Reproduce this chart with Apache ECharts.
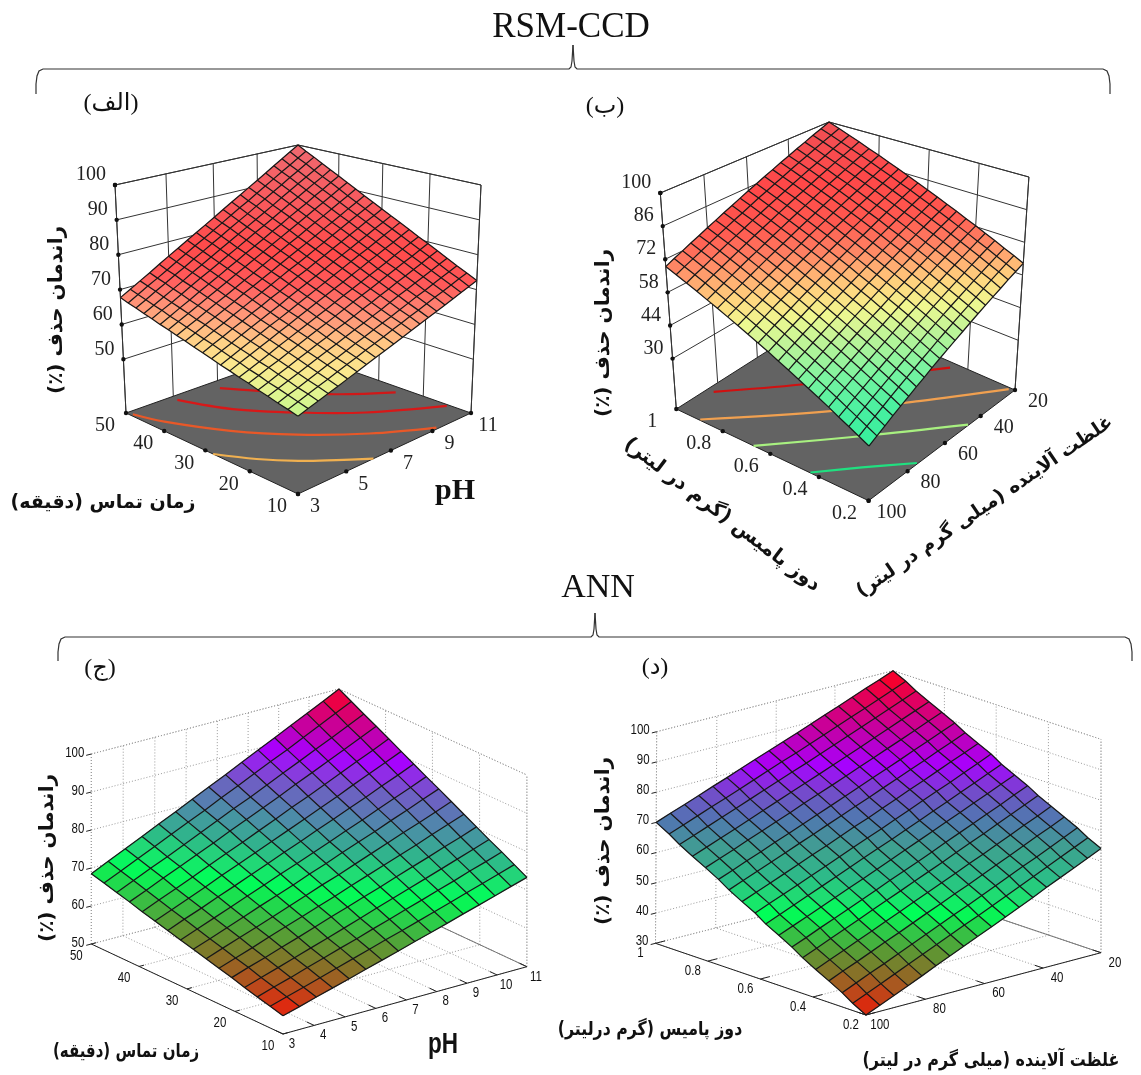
<!DOCTYPE html>
<html><head><meta charset="utf-8"><style>html,body{margin:0;background:#fff}#c{position:absolute;left:0;top:0;width:1141px;height:1075px}</style>
<script src="https://cdn.jsdelivr.net/npm/echarts@6/dist/echarts.min.js"></script></head>
<body><div id="c" dir="rtl"></div><script>
// tick labels
const phTicksA=[3,5,7,9,11], timeTicks=[10,20,30,40,50], zTicksA=[50,60,70,80,90,100];
const concTicks=[100,80,60,40,20], doseTicks=['0.2','0.4','0.6','0.8','1'], zTicksB=[30,44,58,72,86,100];
const phTicksC=[3,4,5,6,7,8,9,10,11], zTicksC=[50,60,70,80,90,100], zTicksD=[30,40,50,60,70,80,90,100];
// surface node positions
const phNodesA=[3,3.4,3.8,4.2,4.6,5,5.4,5.8,6.2,6.6,7,7.4,7.8,8.2,8.6,9,9.4,9.8,10.2,10.6,11];
const timeNodesA=[10,12,14,16,18,20,22,24,26,28,30,32,34,36,38,40,42,44,46,48,50];
const concNodesB=[100,96,92,88,84,80,76,72,68,64,60,56,52,48,44,40,36,32,28,24,20];
const doseNodesB=[.2,.24,.28,.32,.36,.4,.44,.48,.52,.56,.6,.64,.68,.72,.76,.8,.84,.88,.92,.96,1];
const phNodesC=[3,3.53,4.07,4.6,5.13,5.67,6.2,6.73,7.27,7.8,8.33,8.87,9.4,9.93,10.47,11];
const timeNodesC=[10,12.67,15.33,18,20.67,23.33,26,28.67,31.33,34,36.67,39.33,42,44.67,47.33,50];
const concNodesD=[100,95.3,90.6,85.9,81.2,76.5,71.8,67.1,62.4,57.6,52.9,48.2,43.5,38.8,34.1,29.4,24.7,20];
const doseNodesD=[.2,.25,.29,.34,.39,.44,.48,.53,.58,.62,.67,.72,.76,.81,.86,.91,.95,1];
// removal efficiency (%), one row per y node
const surfaceA=[
[54.6,55.5,56.4,57.3,58.2,59.1,60.0,60.9,61.8,62.7,63.6,64.5,65.4,66.3,67.2,68.1,69.0,69.9,70.8,71.7,72.6],
[55.3,56.2,57.2,58.1,59.0,60.0,60.9,61.8,62.8,63.7,64.6,65.6,66.5,67.5,68.4,69.3,70.3,71.2,72.1,73.1,74.0],
[55.9,56.9,57.8,58.8,59.8,60.8,61.7,62.7,63.7,64.6,65.6,66.6,67.5,68.5,69.5,70.5,71.4,72.4,73.4,74.3,75.3],
[56.6,57.6,58.6,59.6,60.6,61.6,62.6,63.6,64.6,65.6,66.6,67.6,68.6,69.7,70.7,71.7,72.7,73.7,74.7,75.7,76.7],
[57.2,58.2,59.3,60.3,61.4,62.4,63.5,64.5,65.6,66.6,67.6,68.7,69.7,70.8,71.8,72.9,73.9,75.0,76.0,77.1,78.1],
[57.9,59.0,60.1,61.1,62.2,63.3,64.4,65.5,66.5,67.6,68.7,69.8,70.9,71.9,73.0,74.1,75.2,76.3,77.3,78.4,79.5],
[58.5,59.6,60.7,61.8,63.0,64.1,65.2,66.3,67.4,68.5,69.7,70.8,71.9,73.0,74.1,75.2,76.3,77.5,78.6,79.7,80.8],
[59.2,60.4,61.5,62.7,63.8,65.0,66.1,67.3,68.4,69.6,70.7,71.9,73.0,74.2,75.3,76.5,77.6,78.8,79.9,81.1,82.2],
[59.8,61.0,62.2,63.4,64.6,65.8,66.9,68.1,69.3,70.5,71.7,72.9,74.1,75.3,76.5,77.7,78.8,80.0,81.2,82.4,83.6],
[60.5,61.7,62.9,64.2,65.4,66.6,67.8,69.0,70.3,71.5,72.7,73.9,75.1,76.4,77.6,78.8,80.0,81.2,82.5,83.7,84.9],
[61.2,62.5,63.7,65.0,66.2,67.5,68.7,70.0,71.2,72.5,73.8,75.0,76.3,77.5,78.8,80.0,81.3,82.5,83.8,85.0,86.3],
[61.8,63.1,64.4,65.7,67.0,68.3,69.6,70.9,72.2,73.5,74.8,76.0,77.3,78.6,79.9,81.2,82.5,83.8,85.1,86.4,87.7],
[62.5,63.8,65.2,66.5,67.8,69.1,70.5,71.8,73.1,74.4,75.8,77.1,78.4,79.7,81.0,82.4,83.7,85.0,86.4,87.7,89.0],
[63.1,64.5,65.8,67.2,68.6,69.9,71.3,72.7,74.0,75.4,76.8,78.1,79.5,80.8,82.2,83.6,84.9,86.3,87.7,89.0,90.4],
[63.8,65.2,66.6,68.0,69.4,70.8,72.2,73.6,75.0,76.4,77.8,79.2,80.6,82.0,83.4,84.8,86.2,87.6,89.0,90.4,91.8],
[64.4,65.8,67.3,68.7,70.2,71.6,73.0,74.5,75.9,77.4,78.8,80.2,81.7,83.1,84.6,86.0,87.4,88.9,90.3,91.8,93.2],
[65.1,66.6,68.0,69.5,71.0,72.5,73.9,75.4,76.9,78.3,79.8,81.3,82.7,84.2,85.7,87.2,88.6,90.1,91.6,93.0,94.5],
[65.7,67.2,68.7,70.2,71.7,73.3,74.8,76.3,77.8,79.3,80.8,82.3,83.8,85.3,86.8,88.4,89.9,91.4,92.9,94.4,95.9],
[66.4,67.9,69.5,71.0,72.6,74.1,75.7,77.2,78.8,80.3,81.9,83.4,84.9,86.5,88.0,89.6,91.1,92.7,94.2,95.8,97.3],
[67.0,68.6,70.2,71.7,73.3,74.9,76.5,78.1,79.6,81.2,82.8,84.4,86.0,87.5,89.1,90.7,92.3,93.9,95.4,97.0,98.6],
[67.7,69.3,70.9,72.5,74.2,75.8,77.4,79.0,80.6,82.2,83.8,85.5,87.1,88.7,90.3,91.9,93.5,95.2,96.8,98.4,100.0]];
const surfaceB=[
[28.6,30.3,32.0,33.8,35.5,37.2,38.9,40.6,42.4,44.1,45.8,47.5,49.2,51.0,52.7,54.4,56.1,57.8,59.6,61.3,63.0],
[30.6,32.3,34.0,35.7,37.5,39.2,40.9,42.6,44.3,46.0,47.8,49.5,51.2,52.9,54.6,56.3,58.0,59.8,61.5,63.2,64.9],
[32.6,34.3,36.0,37.7,39.4,41.1,42.8,44.5,46.2,47.9,49.7,51.4,53.1,54.8,56.5,58.2,59.9,61.6,63.3,65.0,66.7],
[34.6,36.3,38.0,39.7,41.4,43.1,44.8,46.5,48.2,49.9,51.6,53.3,55.0,56.7,58.4,60.1,61.8,63.5,65.2,66.9,68.6],
[36.7,38.4,40.1,41.8,43.4,45.1,46.8,48.5,50.2,51.9,53.6,55.2,56.9,58.6,60.3,62.0,63.7,65.3,67.0,68.7,70.4],
[38.7,40.4,42.1,43.7,45.4,47.1,48.8,50.5,52.1,53.8,55.5,57.2,58.9,60.5,62.2,63.9,65.6,67.3,68.9,70.6,72.3],
[40.7,42.4,44.0,45.7,47.4,49.1,50.7,52.4,54.1,55.7,57.4,59.1,60.7,62.4,64.1,65.8,67.4,69.1,70.8,72.4,74.1],
[42.7,44.4,46.0,47.7,49.4,51.0,52.7,54.4,56.0,57.7,59.4,61.0,62.7,64.3,66.0,67.7,69.3,71.0,72.7,74.3,76.0],
[44.7,46.4,48.0,49.7,51.3,53.0,54.6,56.3,57.9,59.6,61.3,62.9,64.6,66.2,67.9,69.5,71.2,72.8,74.5,76.1,77.8],
[46.7,48.4,50.0,51.7,53.3,55.0,56.6,58.3,59.9,61.6,63.2,64.9,66.5,68.2,69.8,71.5,73.1,74.8,76.4,78.1,79.7],
[48.8,50.4,52.1,53.7,55.3,57.0,58.6,60.2,61.9,63.5,65.2,66.8,68.4,70.1,71.7,73.3,75.0,76.6,78.2,79.9,81.5],
[50.8,52.4,54.1,55.7,57.3,59.0,60.6,62.2,63.8,65.5,67.1,68.7,70.4,72.0,73.6,75.3,76.9,78.5,80.1,81.8,83.4],
[52.8,54.4,56.0,57.7,59.3,60.9,62.5,64.1,65.8,67.4,69.0,70.6,72.2,73.9,75.5,77.1,78.7,80.3,82.0,83.6,85.2],
[54.8,56.4,58.0,59.6,61.3,62.9,64.5,66.1,67.7,69.3,71.0,72.6,74.2,75.8,77.4,79.0,80.6,82.3,83.9,85.5,87.1],
[56.8,58.4,60.0,61.6,63.2,64.8,66.4,68.0,69.6,71.2,72.9,74.5,76.1,77.7,79.3,80.9,82.5,84.1,85.7,87.3,88.9],
[58.8,60.4,62.0,63.6,65.2,66.8,68.4,70.0,71.6,73.2,74.8,76.4,78.0,79.6,81.2,82.8,84.4,86.0,87.6,89.2,90.8],
[60.8,62.4,64.0,65.6,67.2,68.8,70.3,71.9,73.5,75.1,76.7,78.3,79.9,81.5,83.1,84.7,86.2,87.8,89.4,91.0,92.6],
[62.9,64.5,66.1,67.6,69.2,70.8,72.4,74.0,75.5,77.1,78.7,80.3,81.9,83.4,85.0,86.6,88.2,89.8,91.3,92.9,94.5],
[64.9,66.5,68.0,69.6,71.2,72.8,74.3,75.9,77.5,79.0,80.6,82.2,83.7,85.3,86.9,88.5,90.0,91.6,93.2,94.7,96.3],
[66.9,68.5,70.0,71.6,73.2,74.7,76.3,77.9,79.4,81.0,82.6,84.1,85.7,87.2,88.8,90.4,91.9,93.5,95.1,96.6,98.2],
[68.9,70.5,72.0,73.6,75.1,76.7,78.2,79.8,81.3,82.9,84.5,86.0,87.6,89.1,90.7,92.2,93.8,95.3,96.9,98.4,100.0]];
const surfaceC=[
[54.8,56.0,57.3,58.5,59.7,61.0,62.2,63.4,64.7,65.9,67.1,68.4,69.6,70.8,72.1,73.3],
[55.7,57.0,58.3,59.6,60.9,62.2,63.5,64.8,66.0,67.3,68.6,69.9,71.2,72.5,73.8,75.1],
[56.6,58.0,59.3,60.7,62.0,63.4,64.7,66.1,67.4,68.8,70.1,71.5,72.8,74.2,75.5,76.9],
[57.5,58.9,60.3,61.7,63.1,64.5,65.9,67.3,68.8,70.2,71.6,73.0,74.4,75.8,77.2,78.6],
[58.5,60.0,61.4,62.9,64.3,65.8,67.3,68.7,70.2,71.6,73.1,74.6,76.0,77.5,78.9,80.4],
[59.4,60.9,62.4,64.0,65.5,67.0,68.5,70.0,71.6,73.1,74.6,76.1,77.6,79.2,80.7,82.2],
[60.3,61.9,63.5,65.0,66.6,68.2,69.8,71.4,72.9,74.5,76.1,77.7,79.3,80.8,82.4,84.0],
[61.2,62.8,64.5,66.1,67.8,69.4,71.0,72.7,74.3,76.0,77.6,79.2,80.9,82.5,84.2,85.8],
[62.1,63.8,65.5,67.2,68.9,70.6,72.3,73.9,75.6,77.3,79.0,80.7,82.4,84.1,85.8,87.5],
[63.0,64.8,66.5,68.3,70.0,71.8,73.5,75.3,77.0,78.8,80.5,82.3,84.0,85.8,87.5,89.3],
[63.9,65.7,67.5,69.3,71.2,73.0,74.8,76.6,78.4,80.2,82.0,83.8,85.7,87.5,89.3,91.1],
[64.8,66.7,68.5,70.4,72.3,74.2,76.0,77.9,79.8,81.7,83.5,85.4,87.3,89.2,91.0,92.9],
[65.8,67.7,69.7,71.6,73.5,75.4,77.4,79.3,81.2,83.1,85.1,87.0,88.9,90.8,92.8,94.7],
[66.7,68.7,70.7,72.6,74.6,76.6,78.6,80.6,82.5,84.5,86.5,88.5,90.5,92.4,94.4,96.4],
[67.6,69.6,71.7,73.7,75.8,77.8,79.8,81.9,83.9,86.0,88.0,90.0,92.1,94.1,96.2,98.2],
[68.5,70.6,72.7,74.8,76.9,79.0,81.1,83.2,85.3,87.4,89.5,91.6,93.7,95.8,97.9,100.0]];
const surfaceD=[
[30.0,32.0,34.0,36.0,38.0,40.1,42.1,44.1,46.1,48.1,50.1,52.1,54.1,56.2,58.2,60.2,62.2,64.2],
[32.4,34.4,36.4,38.4,40.4,42.4,44.4,46.4,48.4,50.3,52.3,54.3,56.3,58.3,60.3,62.3,64.3,66.3],
[34.7,36.7,38.7,40.6,42.6,44.6,46.6,48.6,50.6,52.5,54.5,56.5,58.5,60.5,62.4,64.4,66.4,68.4],
[37.1,39.1,41.0,43.0,45.0,46.9,48.9,50.9,52.8,54.8,56.7,58.7,60.7,62.6,64.6,66.6,68.5,70.5],
[39.4,41.4,43.3,45.3,47.2,49.2,51.1,53.1,55.0,57.0,58.9,60.9,62.8,64.8,66.7,68.7,70.6,72.6],
[41.8,43.7,45.7,47.6,49.5,51.5,53.4,55.3,57.3,59.2,61.1,63.1,65.0,66.9,68.9,70.8,72.8,74.7],
[44.1,46.0,48.0,49.9,51.8,53.7,55.6,57.6,59.5,61.4,63.3,65.3,67.2,69.1,71.0,72.9,74.9,76.8],
[46.5,48.4,50.3,52.2,54.1,56.0,57.9,59.8,61.7,63.7,65.6,67.5,69.4,71.3,73.2,75.1,77.0,78.9],
[48.8,50.7,52.6,54.5,56.4,58.3,60.2,62.1,64.0,65.8,67.7,69.6,71.5,73.4,75.3,77.2,79.1,81.0],
[51.2,53.1,55.0,56.8,58.7,60.6,62.5,64.4,66.3,68.1,70.0,71.9,73.8,75.7,77.5,79.4,81.3,83.2],
[53.5,55.4,57.2,59.1,61.0,62.9,64.7,66.6,68.5,70.3,72.2,74.1,76.0,77.8,79.7,81.6,83.4,85.3],
[55.9,57.8,59.6,61.5,63.3,65.2,67.0,68.9,70.7,72.6,74.4,76.3,78.1,80.0,81.8,83.7,85.5,87.4],
[58.2,60.0,61.9,63.7,65.6,67.4,69.2,71.1,72.9,74.8,76.6,78.5,80.3,82.1,84.0,85.8,87.7,89.5],
[60.6,62.4,64.2,66.1,67.9,69.7,71.5,73.4,75.2,77.0,78.8,80.7,82.5,84.3,86.1,87.9,89.8,91.6],
[62.9,64.7,66.5,68.3,70.1,72.0,73.8,75.6,77.4,79.2,81.0,82.8,84.6,86.5,88.3,90.1,91.9,93.7],
[65.3,67.1,68.9,70.7,72.5,74.3,76.1,77.9,79.7,81.4,83.2,85.0,86.8,88.6,90.4,92.2,94.0,95.8],
[67.6,69.4,71.2,73.0,74.7,76.5,78.3,80.1,81.9,83.6,85.4,87.2,89.0,90.8,92.5,94.3,96.1,97.9],
[70.0,71.8,73.5,75.3,77.1,78.8,80.6,82.4,84.1,85.9,87.6,89.4,91.2,92.9,94.7,96.5,98.2,100.0]];
// floor contours: [x value, y value]
const contoursA=[
[[6.6,47.1],[7.3,42],[9,31.2],[10.6,24.4]],
[[4.9,48.3],[5.7,38.8],[7,30.3],[8.6,22.3],[10.9,14.6]],
[[3.1,48.8],[3.46,42.8],[4.5,32.6],[5.8,24.1],[7.46,16.4],[9.3,10.4]],
[[3,28.2],[3.7,22.3],[4.5,17.4],[5.34,13.6],[6.2,10]]];
const contoursB=[
[[84.9,.974],[63.3,.78],[23,.454]],
[[99.6,.9],[70,.61],[46.1,.413],[20.9,.22]],
[[100,.67],[73.6,.431],[46.8,.203]],
[[99.8,.436],[87.5,.326],[74.6,.204]]];
const contourColorsA=['#d01818','#d81818','#e85828','#f0b050'];
const contourColorsB=['#d01010','#f0a050','#a8f080','#20e080'];

const stopsA=[[54,'#b8f58a'],[57,'#e0f590'],[60,'#fbe98e'],[63,'#ffcf86'],[66,'#ffa57d'],[69,'#ff8070'],[72,'#ff5a5a'],[78,'#ff4a4a'],[88,'#f85a5e'],[100,'#ef6a70']];
const stopsB=[[28,'#34ee9c'],[35,'#48f0a0'],[42,'#78f4a0'],[50,'#c0f498'],[55,'#f0f890'],[60,'#ffd880'],[65,'#ffa870'],[70,'#ff7a60'],[75,'#ff5a50'],[85,'#ff4848'],[100,'#f05055']];
const stopsC=[[55.5,'#e4250e'],[58,'#b84c1c'],[61,'#857328'],[64,'#5a9a34'],[67,'#30c848'],[70.5,'#00ff58'],[73,'#20dc74'],[76,'#30b48c'],[80,'#4c8ca8'],[84,'#6a64c0'],[87,'#8a38e0'],[89.5,'#a800ff'],[93,'#c000b0'],[97,'#e00060'],[100,'#ff0018']];
const stopsD=[[31.5,'#e0240c'],[35,'#b84c1c'],[39,'#857328'],[43,'#5a9a34'],[47,'#30c848'],[51,'#00ff58'],[54,'#1ee070'],[58,'#2cbc88'],[64,'#3fa090'],[70,'#5078b0'],[75,'#7050c8'],[81,'#a800ff'],[87,'#c000b0'],[94,'#e00060'],[100,'#ff0018']];

const FA='"Liberation Serif","DejaVu Sans"';
const RSMFONT='20px "Liberation Serif"', MATFONT='14px "Liberation Sans"';
const panels=[
{kind:'rsm',xNodes:phNodesA,yNodes:timeNodesA,grid:surfaceA,xRange:[3,11],yRange:[10,50],zRange:[34.6,100],
 xTicks:phTicksA,yTicks:timeTicks,zTicks:zTicksA,stops:stopsA,contours:contoursA,cColors:contourColorsA,
 floor:[[298,494],[471,413],[298,352],[126,413]],top:[[298,240],[481,185],[298,145],[115,185]],
 xOff:[17,13],yOff:[-21,13],zOff:[-9,-10]},
{kind:'rsm',xNodes:concNodesB,yNodes:doseNodesB,grid:surfaceB,xRange:[100,20],yRange:[.2,1],zRange:[8.7,100],
 xTicks:concTicks,yTicks:doseTicks,zTicks:zTicksB,stops:stopsB,contours:contoursB,cColors:contourColorsB,
 floor:[[868.6,500.7],[1015,390],[832,310],[676.3,409]],top:[[870,250],[1028.9,177],[829,122],[660.3,193]],
 xOff:[23,12],yOff:[-24,13],zOff:[-9,-10]},
{kind:'mat',xNodes:phNodesC,yNodes:timeNodesC,grid:surfaceC,xRange:[3,11],yRange:[10,50],zRange:[50,100],
 xTicks:phTicksC,yTicks:timeTicks,zTicks:zTicksC,stops:stopsC,
 floor:[[283,1034],[526.9,966.7],[339,879],[91.3,944]],top:[[283,844],[526.9,775],[339,689],[91.3,754]],
 xOff:[9,10],yOff:[-15,12],zOff:[-7,-1]},
{kind:'mat',xNodes:concNodesD,yNodes:doseNodesD,grid:surfaceD,xRange:[100,20],yRange:[.2,1],zRange:[30,100],
 xTicks:concTicks,yTicks:doseTicks,zTicks:zTicksD,stops:stopsD,
 floor:[[865.9,1015],[1101,952.7],[893,882.7],[655.5,943.3]],top:[[865.9,803],[1101,739.3],[893,670.7],[656.7,731.7]],
 xOff:[14,10],yOff:[-15,10],zOff:[-7,-2]}];

function quad(q){const [[x0,y0],[x1,y1],[x2,y2],[x3,y3]]=q;
 const dx1=x1-x2,dx2=x3-x2,sx=x0-x1+x2-x3,dy1=y1-y2,dy2=y3-y2,sy=y0-y1+y2-y3,den=dx1*dy2-dx2*dy1;
 const g=(sx*dy2-dx2*sy)/den,h=(dx1*sy-sx*dy1)/den;
 const a=x1-x0+g*x1,b=x3-x0+h*x3,d=y1-y0+g*y1,e=y3-y0+h*y3;
 return (u,v)=>{const w=g*u+h*v+1;return [(a*u+b*v+x0)/w,(d*u+e*v+y0)/w];};}
function hex(c){return [1,3,5].map(i=>parseInt(c.substr(i,2),16));}
function ramp(stops,z){if(z<=stops[0][0])return stops[0][1];
 for(let i=1;i<stops.length;i++)if(z<=stops[i][0]){const t=(z-stops[i-1][0])/(stops[i][0]-stops[i-1][0]),a=hex(stops[i-1][1]),b=hex(stops[i][1]);
  return 'rgb('+a.map((v,k)=>Math.round(v+(b[k]-v)*t)).join(',')+')';}
 return stops[stops.length-1][1];}

function build(p){
 const fl=quad(p.floor),tp=quad(p.top);
 const fu=v=>(+v-p.xRange[0])/(p.xRange[1]-p.xRange[0]),fv=v=>(+v-p.yRange[0])/(p.yRange[1]-p.yRange[0]),fz=v=>(v-p.zRange[0])/(p.zRange[1]-p.zRange[0]);
 const prj=(u,v,t)=>{const a=fl(u,v),b=tp(u,v);return [a[0]+(b[0]-a[0])*t,a[1]+(b[1]-a[1])*t];};
 const S=[],rsm=p.kind==='rsm';
 const wl=rsm?{stroke:'#333',lineWidth:1}:{stroke:'#9a9a9a',lineWidth:1,lineDash:[1,2]};
 const line=(a,b,st)=>S.push({k:'line',pts:[a,b],st:st||wl});
 // walls
 p.zTicks.forEach(z=>{const t=fz(z);line(prj(0,1,t),prj(1,1,t));line(prj(1,1,t),prj(1,0,t));});
 line(prj(0,1,1),prj(1,1,1));line(prj(1,1,1),prj(1,0,1));
 p.xTicks.forEach(x=>{const u=fu(x);line(prj(u,1,0),prj(u,1,1));});
 p.yTicks.forEach(y=>{const v=fv(y);line(prj(1,v,0),prj(1,v,1));});
 line(prj(0,1,0),prj(0,1,1));line(prj(1,0,0),prj(1,0,1));
 if(rsm){
  S.push({k:'poly',pts:[prj(0,0,0),prj(1,0,0),prj(1,1,0),prj(0,1,0)],st:{fill:'#636363',stroke:'#222',lineWidth:1}});
  p.contours.forEach((c,i)=>S.push({k:'curve',pts:c.map(q=>prj(fu(q[0]),fv(q[1]),0)),st:{stroke:p.cColors[i],lineWidth:2.2,fill:'none'}}));
  p.zTicks.forEach(z=>S.push({k:'dot',pt:prj(0,1,fz(z))}));
  p.xTicks.forEach(x=>S.push({k:'dot',pt:prj(fu(x),0,0)}));
  p.yTicks.forEach(y=>S.push({k:'dot',pt:prj(0,fv(y),0)}));
  S.push({k:'dot',pt:prj(0,1,1)});
 }else{
  p.xTicks.forEach(x=>line(prj(fu(x),0,0),prj(fu(x),1,0)));
  p.yTicks.forEach(y=>line(prj(0,fv(y),0),prj(1,fv(y),0)));
  line(prj(1,0,0),prj(1,1,0),{stroke:'#777',lineWidth:1});
  const ax={stroke:'#222',lineWidth:1};
  line(prj(0,0,0),prj(1,0,0),ax);line(prj(0,0,0),prj(0,1,0),ax);
  const nx=1/(p.xTicks.length-1)*.12,ny=1/(p.yTicks.length-1)*.12;
  p.xTicks.forEach(x=>line(prj(fu(x),0,0),prj(fu(x),ny*1.3,0),ax));
  p.yTicks.forEach(y=>line(prj(0,fv(y),0),prj(nx*1.3,fv(y),0),ax));
  p.zTicks.forEach(z=>line(prj(-.02,1,fz(z)),prj(0,1,fz(z)),ax));
 }
 // surface: fills first, then the mesh lines on top of all of them
 const g=p.grid,node=(i,j)=>prj(fu(p.xNodes[i]),fv(p.yNodes[j]),fz(g[j][i]));
 for(let r=0;r<g.length-1;r++)for(let c=0;c<g[r].length-1;c++){
  const corners=[[c,r],[c+1,r],[c+1,r+1],[c,r+1]];
  const m=corners.reduce((s,[i,j])=>s+g[j][i],0)/4,fill=ramp(p.stops,m);
  S.push({k:'poly',pts:corners.map(([i,j])=>node(i,j)),st:{fill,stroke:fill,lineWidth:.6}});
 }
 const mesh={stroke:'#181818',lineWidth:1.25};
 for(let r=0;r<g.length;r++)S.push({k:'line',pts:g[r].map((_,c)=>node(c,r)),st:mesh});
 for(let c=0;c<g[0].length;c++)S.push({k:'line',pts:g.map((_,r)=>node(c,r)),st:mesh});
 // tick labels
 const font=rsm?RSMFONT:MATFONT,col=rsm?'#222':'#111',sx=rsm?1:.82;
 const lab=(pt,off,t,al)=>S.push({k:'text',pt:[pt[0]+off[0],pt[1]+off[1]],t:String(t),font,col,al:al||'center',sx});
 p.xTicks.forEach(x=>lab(prj(fu(x),0,0),p.xOff,x));
 p.yTicks.forEach(y=>lab(prj(0,fv(y),0),p.yOff,y));
 p.zTicks.forEach(z=>lab(prj(0,1,fz(z)),p.zOff,z,'right'));
 return S;
}
const allShapes=panels.map(build);
const PF='bold 20px "DejaVu Sans"';
const title=(t,x,y,rot,font,sx)=>({type:'text',x,y,rotation:rot||0,scaleX:sx||1,silent:true,style:{text:t,x:0,y:0,align:'center',verticalAlign:'middle',font:font||PF,fill:'#111'}});
const brace=(x0,x1,xm,yb,yTip,yEnd)=>[
 [[x0,yEnd],[x0,yb+15],[x0+1,yb+7],[x0+3,yb+2],[x0+7,yb],[xm-4,yb],[xm-2,yb-2],[xm-1,yb-8],[xm,yTip]],
 [[xm,yTip],[xm+1,yb-8],[xm+2,yb-2],[xm+4,yb],[x1-7,yb],[x1-3,yb+2],[x1-1,yb+7],[x1,yb+15],[x1,yEnd]]
].map(points=>({type:'polyline',silent:true,shape:{points},style:{stroke:'#333',lineWidth:1.2,fill:'none'}}));
const graphics=[
 title('RSM-CCD',571,28,0,'35px "Liberation Serif"'),title('ANN',598,588,0,'34px "Liberation Serif"'),
 ...brace(36,1110,573,69,45,94),...brace(58,1132,595,637,613,661),
 title('(الف)',111,104,0,'24px '+FA),title('(ب)',605,107,0,'24px '+FA),title('(ج)',100,669,0,'24px '+FA),title('(د)',655,668,0,'24px '+FA),
 title('راندمان حذف (٪)',57,310,Math.PI/2,PF,1.0),
 title('زمان تماس (دقیقه)',103,503,0,'bold 19px "DejaVu Sans"'),
 title('pH',455,491,0,'bold 30px "Liberation Serif"'),
 title('راندمان حذف (٪)',604,333,Math.PI/2,PF),
 title('دوز پامیس (گرم در لیتر)',722,515,-.65,PF),
 title('غلظت آلاینده (میلی گرم در لیتر)',985,507,.6,'bold 19px "DejaVu Sans"'),
 title('راندمان حذف (٪)',48,858,Math.PI/2,PF),
 title('زمان تماس (دقیقه)',126,1052,0,'bold 19px "DejaVu Sans"',.79),
 title('pH',443,1045,0,'bold 30px "Liberation Sans"',.75),
 title('راندمان حذف (٪)',604,841,Math.PI/2,PF),
 title('دوز پامیس (گرم درلیتر)',650,1030,0,'bold 19px "DejaVu Sans"',.83),
 title('غلظت آلاینده (میلی گرم در لیتر)',991,1061,0,'bold 19px "DejaVu Sans"',.84)
];
const chart=echarts.init(document.getElementById('c'),null,{renderer:'canvas',width:1141,height:1075});
const render=S=>(params,api)=>{const s=S[params.dataIndex],C=p=>api.coord(p);
 if(s.k==='poly')return {type:'polygon',shape:{points:s.pts.map(C)},style:s.st};
 if(s.k==='line')return {type:'polyline',shape:{points:s.pts.map(C)},style:Object.assign({fill:'none'},s.st)};
 if(s.k==='curve')return {type:'polyline',shape:{points:s.pts.map(C),smooth:.35},style:s.st};
 if(s.k==='dot'){const c=C(s.pt);return {type:'circle',shape:{cx:c[0],cy:c[1],r:2.2},style:{fill:'#111'}};}
 const c=C(s.pt);return {type:'text',x:c[0],y:c[1],scaleX:s.sx,style:{text:s.t,x:0,y:0,align:s.al,verticalAlign:'middle',font:s.font,fill:s.col}};};
chart.setOption({animation:false,backgroundColor:'#fff',tooltip:{show:false},
 grid:{left:0,right:0,top:0,bottom:0},
 xAxis:{type:'value',min:0,max:1141,show:false},
 yAxis:{type:'value',min:0,max:1075,inverse:true,show:false},
 graphic:{elements:graphics},
 series:allShapes.map(S=>({type:'custom',coordinateSystem:'cartesian2d',clip:false,silent:true,progressive:0,animation:false,
  renderItem:render(S),data:S.map((_,i)=>[i,0])}))});
</script></body></html>
